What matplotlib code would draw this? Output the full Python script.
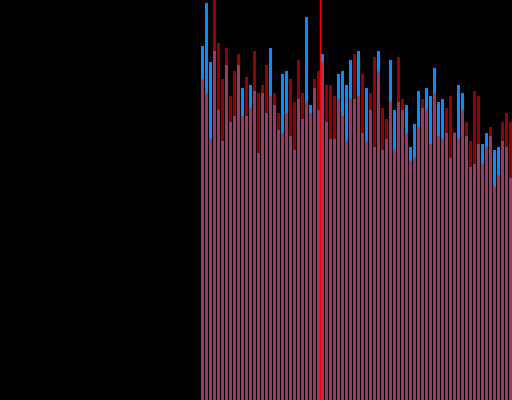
import numpy as np
import matplotlib
matplotlib.use("Agg")
import matplotlib.pyplot as plt

# two series per slot, drawn on the same x positions (red over blue)
blue_vals = [354, 397, 338, 349, 290, 259, 335, 278, 284, 335,
             312, 284, 315, 309, 247, 307, 287, 352, 295, 270,
             326, 329, 264, 250, 301, 281, 383, 295, 312, 290,
             346, 278, 261, 261, 326, 329, 315, 340, 301, 349,
             267, 312, 290, 253, 349, 250, 261, 340, 290, 298,
             290, 295, 253, 276, 309, 292, 312, 304, 332, 298,
             301, 267, 242, 267, 315, 307, 264, 233, 236, 256,
             256, 267, 264, 250, 253, 259, 253, 222]
red_vals = [321, 307, 261, 405, 357, 321, 352, 304, 329, 346,
            284, 323, 292, 349, 307, 315, 335, 304, 307, 287,
            267, 287, 321, 298, 340, 307, 298, 287, 321, 329,
            338, 315, 315, 304, 301, 284, 259, 301, 346, 304,
            326, 259, 307, 343, 329, 292, 281, 298, 250, 343,
            301, 267, 239, 242, 273, 301, 290, 256, 307, 264,
            261, 292, 304, 268, 261, 290, 278, 259, 309, 304,
            236, 253, 273, 214, 225, 278, 287, 278]
n_slots = 128          # full buffer width, only the last part is filled
marker_pos = 29.5      # vertical marker between slots

x = np.arange(len(blue_vals))

fig = plt.figure(figsize=(5.12, 4.0), dpi=100, facecolor="black")
ax = fig.add_axes([0, 0, 1, 1])
ax.set_facecolor("black")

ax.bar(x, blue_vals, width=0.75, color="#0a8aff", linewidth=0)
ax.bar(x, red_vals, width=0.75, color="#ff0000", alpha=0.6, linewidth=0)
ax.axvline(marker_pos, color="#ff0000", linewidth=1.0)

ax.set_xlim(len(x) - n_slots - 0.5, len(x) - 0.5)
ax.set_ylim(0, 400)
ax.axis("off")

fig.savefig("out.png", dpi=100, facecolor="black")
